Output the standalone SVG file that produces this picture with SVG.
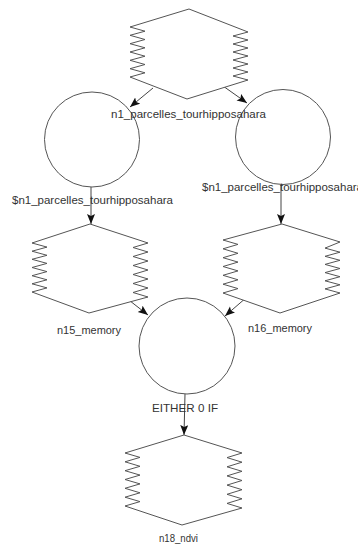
<svg xmlns="http://www.w3.org/2000/svg" width="358" height="547" viewBox="0 0 358 547">
<defs>
<marker id="arr" markerUnits="userSpaceOnUse" markerWidth="11" markerHeight="9" refX="10" refY="4" orient="auto">
<path d="M0,0 L10,4 L0,8 L2,4 z" fill="#111"/>
</marker>
</defs>
<style>
.shape{fill:#fff;stroke:#555;stroke-width:1}
.edge{stroke:#444;stroke-width:1;fill:none;marker-end:url(#arr)}
text{font-family:"Liberation Sans",Arial,sans-serif;font-size:11px;fill:#333}
</style>
<rect width="358" height="547" fill="#fff"/>
<g id="connectors">
<line class="edge" x1="153" y1="88" x2="130" y2="107"/>
<line class="edge" x1="223" y1="86" x2="247" y2="103"/>
<line class="edge" x1="91" y1="187" x2="91" y2="224"/>
<line class="edge" x1="281" y1="184" x2="281" y2="224"/>
<line class="edge" x1="125" y1="297" x2="148" y2="315"/>
<line class="edge" x1="247" y1="297" x2="225" y2="316"/>
<line class="edge" x1="185" y1="394" x2="184" y2="435"/>
</g>
<g id="c_left">
<circle class="shape" cx="92" cy="139.5" r="47.5"/>
<text x="12" y="204" textLength="161" lengthAdjust="spacingAndGlyphs">$n1_parcelles_tourhipposahara</text>
</g>
<g id="c_right">
<circle class="shape" cx="283" cy="137" r="47.5"/>
<text x="202" y="191" textLength="161" lengthAdjust="spacingAndGlyphs">$n1_parcelles_tourhipposahara</text>
</g>
<g id="n1">
<path class="shape" d="M189,9 L130,27 L145,31.2 L130,35.3 L145,39.5 L130,43.7 L145,47.8 L130,52 L145,56.2 L130,60.3 L145,64.5 L130,68.7 L145,72.8 L130,77 L187,99 L248,80 L233,76 L248,72 L233,68 L248,64 L233,60 L248,56 L233,52 L248,48 L233,44 L248,40 L233,36 L248,32 Z"/>
<text x="111" y="118" textLength="155" lengthAdjust="spacingAndGlyphs">n1_parcelles_tourhipposahara</text>
</g>
<g id="n15">
<path class="shape" d="M90,224 L32,243 L47,247.1 L32,251.2 L47,255.3 L32,259.3 L47,263.4 L32,267.5 L47,271.6 L32,275.7 L47,279.8 L32,283.8 L47,287.9 L32,292 L89,313 L148,297 L133,292.5 L148,288 L133,283.5 L148,279 L133,274.5 L148,270 L133,265.5 L148,261 L133,256.5 L148,252 L133,247.5 L148,243 Z"/>
<text x="57" y="334" textLength="64" lengthAdjust="spacingAndGlyphs">n15_memory</text>
</g>
<g id="n16">
<path class="shape" d="M282,224 L223,240 L238,244.4 L223,248.8 L238,253.3 L223,257.7 L238,262.1 L223,266.5 L238,270.9 L223,275.3 L238,279.8 L223,284.2 L238,288.6 L223,293 L280,313 L340,293 L325,288.9 L340,284.8 L325,280.8 L340,276.7 L325,272.6 L340,268.5 L325,264.4 L340,260.3 L325,256.3 L340,252.2 L325,248.1 L340,242 Z"/>
<text x="248" y="332" textLength="64" lengthAdjust="spacingAndGlyphs">n16_memory</text>
</g>
<g id="either">
<circle class="shape" cx="187" cy="346" r="48"/>
<text x="152" y="412" textLength="66" lengthAdjust="spacingAndGlyphs">EITHER 0 IF</text>
</g>
<g id="n18">
<path class="shape" d="M184,435 L125,453 L140,457.4 L125,461.8 L140,466.3 L125,470.7 L140,475.1 L125,479.5 L140,483.9 L125,488.3 L140,492.8 L125,497.2 L140,501.6 L125,506 L182,525 L242,508 L227,503.4 L242,498.8 L227,494.3 L242,489.7 L227,485.1 L242,480.5 L227,475.9 L242,471.3 L227,466.8 L242,462.2 L227,457.6 L242,453 Z"/>
<text x="159" y="542" textLength="39" lengthAdjust="spacingAndGlyphs">n18_ndvi</text>
</g>
</svg>
